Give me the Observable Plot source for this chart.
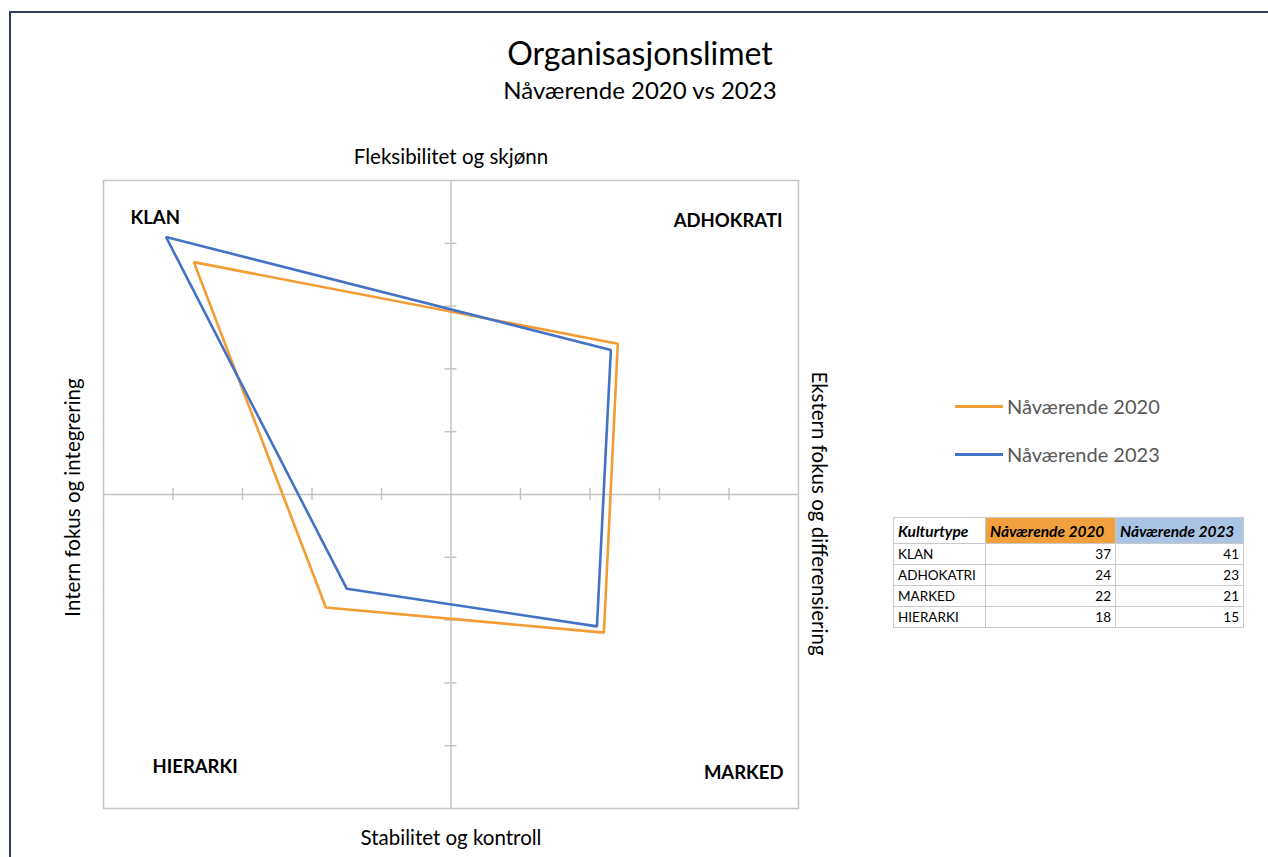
<!DOCTYPE html>
<html>
<head>
<meta charset="utf-8">
<script src="https://cdn.jsdelivr.net/npm/d3@7"></script>
<script src="https://cdn.jsdelivr.net/npm/@observablehq/plot@0.6"></script>
<style>
  html, body { margin: 0; padding: 0; background: #fff; }
  #wrap { position: relative; width: 1268px; height: 857px; overflow: hidden; font-family: Lato, "Open Sans", sans-serif; }
  #border { position: absolute; left: 9px; top: 11px; width: 1300px; height: 900px; border-left: 2px solid #2E3D5E; border-top: 2px solid #2E3D5E; box-sizing: border-box; }
  #chart { position: absolute; left: 0; top: 0; }
  .title { position: absolute; left: 0; width: 1280px; text-align: center; color: #000; line-height: normal; }
  #t1 { top: 33px; font-size: 32px; }
  #t2 { top: 75px; font-size: 24px; }
  .leg { position: absolute; left: 955px; font-size: 20px; color: #595959; display: flex; align-items: center; }
  .leg span.sw { display: inline-block; width: 48px; height: 3px; margin-right: 4px; }
  table { position: absolute; left: 893px; top: 517px; border-collapse: collapse; font-size: 13.5px; color: #000; }
  td, th { border: 1px solid #c9c9c9; padding: 0 4px; height: 20px; line-height: 20px; }
  th { font-style: italic; font-weight: 700; text-align: left; height: 25px; font-size: 15.5px; }
  td.n { text-align: right; }
</style>
</head>
<body>
<div id="wrap">
  <div id="border"></div>
  <div id="chart"></div>
  <div class="title" id="t1">Organisasjonslimet</div>
  <div class="title" id="t2">Nåværende 2020 vs 2023</div>
  <div id="legend"></div>
  <div id="tbl"></div>
</div>
<script>
// ---- data ----
const categories = ["KLAN", "ADHOKATRI", "MARKED", "HIERARKI"];
const quadrantNames = ["KLAN", "ADHOKRATI", "MARKED", "HIERARKI"];
const seriesNames = ["Nåværende 2020", "Nåværende 2023"];
const values2020 = [37, 24, 22, 18];
const values2023 = [41, 23, 21, 15];
const signX = [-1, 1, 1, -1];
const signY = [1, 1, -1, -1];
const tickValues = [-40, -30, -20, -10, 10, 20, 30, 40];
const colors = ["#F39C34", "#4472C4"];
const headerBg = ["#F0A03C", "#A9C4E4"];
const axisTitles = {top: "Fleksibilitet og skjønn", bottom: "Stabilitet og kontroll", left: "Intern fokus og integrering", right: "Ekstern fokus og differensiering"};

const seriesValues = [values2020, values2023];
const rows = [];
seriesNames.forEach((s, si) => {
  categories.forEach((c, ci) => {
    rows.push({series: s, cat: c, x: signX[ci] * seriesValues[si][ci], y: signY[ci] * seriesValues[si][ci]});
  });
});

const font = "Lato, 'Open Sans', sans-serif";
const qSize = 18.5;
const aSize = 20.5;
const plot = Plot.plot({
  width: 1268,
  height: 857,
  marginLeft: 103,
  marginRight: 470,
  marginTop: 180,
  marginBottom: 49,
  x: {domain: [-50, 50], axis: null},
  y: {domain: [-50, 50], axis: null},
  color: {domain: seriesNames, range: colors},
  style: {fontFamily: font, background: "transparent", overflow: "visible"},
  marks: [
    Plot.frame({stroke: "#c4c4c4", strokeWidth: 1.5}),
    Plot.ruleX([0], {stroke: "#c4c4c4", strokeWidth: 1.5, strokeOpacity: 1}),
    Plot.ruleY([0], {stroke: "#c4c4c4", strokeWidth: 1.5, strokeOpacity: 1}),
    Plot.ruleX(tickValues, {x: d => d, y1: 0, y2: 0, insetTop: -6, insetBottom: -6, stroke: "#c4c4c4", strokeWidth: 1.5, strokeOpacity: 1}),
    Plot.ruleY(tickValues, {y: d => d, x1: 0, x2: 0, insetLeft: -6, insetRight: -6, stroke: "#c4c4c4", strokeWidth: 1.5, strokeOpacity: 1}),
    Plot.line(rows, {x: "x", y: "y", z: "series", stroke: "series", strokeWidth: 2.6, curve: "linear-closed", strokeLinejoin: "miter"}),
    Plot.text([quadrantNames[0]], {frameAnchor: "top-left", text: d => d, dx: 27, dy: 38, lineAnchor: "middle", textAnchor: "start", fontSize: qSize, fontWeight: "bold", fill: "#000"}),
    Plot.text([quadrantNames[1]], {frameAnchor: "top-right", text: d => d, dx: -16, dy: 41, lineAnchor: "middle", textAnchor: "end", fontSize: qSize, fontWeight: "bold", fill: "#000"}),
    Plot.text([quadrantNames[2]], {frameAnchor: "bottom-right", text: d => d, dx: -15, dy: -35, lineAnchor: "middle", textAnchor: "end", fontSize: qSize, fontWeight: "bold", fill: "#000"}),
    Plot.text([quadrantNames[3]], {frameAnchor: "bottom-left", text: d => d, dx: 49, dy: -41, lineAnchor: "middle", textAnchor: "start", fontSize: qSize, fontWeight: "bold", fill: "#000"}),
    Plot.text([axisTitles.top], {frameAnchor: "top", text: d => d, dy: -23, lineAnchor: "middle", fontSize: aSize, fill: "#000"}),
    Plot.text([axisTitles.bottom], {frameAnchor: "bottom", text: d => d, dy: 30, lineAnchor: "middle", fontSize: aSize, fill: "#000"}),
    Plot.text([axisTitles.left], {frameAnchor: "left", text: d => d, dx: -30, dy: 3, rotate: -90, lineAnchor: "middle", textAnchor: "middle", fontSize: aSize, fill: "#000"}),
    Plot.text([axisTitles.right], {frameAnchor: "right", text: d => d, dx: 20, dy: 19, rotate: 90, lineAnchor: "middle", textAnchor: "middle", fontSize: aSize, fill: "#000"})
  ]
});
document.getElementById("chart").appendChild(plot);

// legend
const legend = document.getElementById("legend");
seriesNames.forEach((s, i) => {
  const d = document.createElement("div");
  d.className = "leg";
  d.style.top = (394 + i * 48) + "px";
  d.innerHTML = `<span class="sw" style="background:${colors[i]}"></span>${s}`;
  legend.appendChild(d);
});

// table
const tbl = document.createElement("table");
let html = `<tr><th style="width:83px">Kulturtype</th><th style="width:121px;background:${headerBg[0]}">${seriesNames[0]}</th><th style="width:119px;background:${headerBg[1]}">${seriesNames[1]}</th></tr>`;
categories.forEach((c, i) => {
  html += `<tr><td>${c}</td><td class="n">${values2020[i]}</td><td class="n">${values2023[i]}</td></tr>`;
});
tbl.innerHTML = html;
document.getElementById("tbl").appendChild(tbl);
</script>
</body>
</html>
